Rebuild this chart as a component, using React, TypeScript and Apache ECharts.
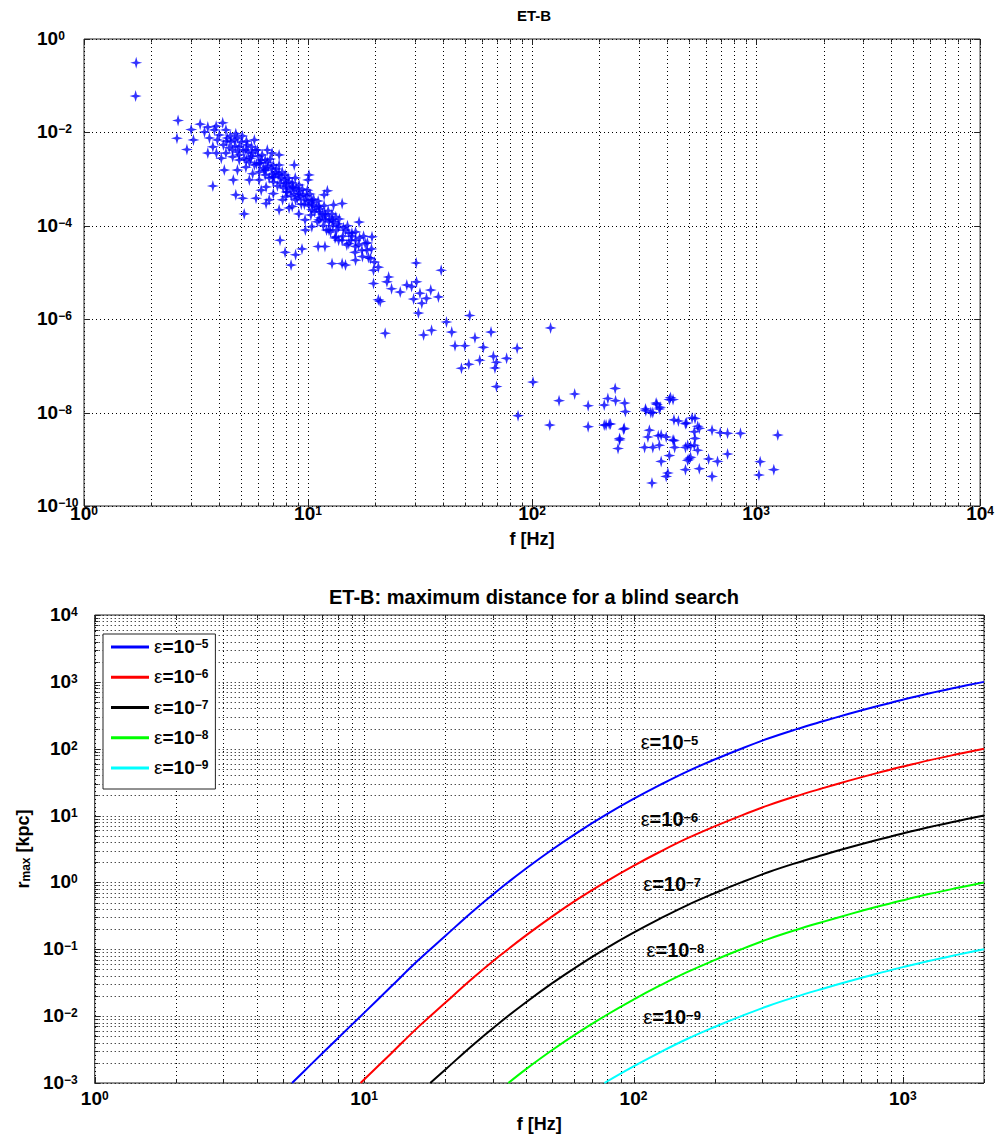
import React, { useEffect, useRef } from 'react';
import * as echarts from 'echarts';

const FONT = '"Liberation Sans", Arial, Helvetica, sans-serif';

// ---------------- Top panel: ET-B scatter (f [Hz], amplitude) ----------------
const lowBandPoints: [number, number][] = [
  [1.71, 0.31], [1.70, 0.06],
  [2.63, 1.8e-2], [2.60, 7.5e-3], [2.88, 4.3e-3], [3.01, 1.15e-2], [3.08, 6.9e-3], [3.30, 1.5e-2],
  [3.57, 1.3e-2], [3.89, 1.36e-2], [4.16, 1.6e-2], [3.57, 3.6e-3], [3.76, 4.9e-3], [4.23, 1.56e-3],
  [4.64, 9.6e-4], [3.76, 7.1e-4], [4.76, 4.6e-4], [5.19, 1.8e-4], [5.11, 3.9e-4], [5.86, 3.9e-4],
  [4.76, 9.4e-3], [4.30, 1.13e-2], [4.53, 6.3e-3], [4.93, 4.9e-3], [5.28, 4.2e-3], [5.66, 3.6e-3],
  [6.91, 3.6e-3], [6.05, 2.2e-3], [6.49, 1.56e-3], [6.95, 1.1e-3], [7.43, 1.3e-3], [7.96, 8.0e-4],
  [8.53, 6.8e-4], [9.12, 4.9e-4], [10.0, 9.6e-4], [10.4, 3.6e-4], [11.2, 2.6e-4], [11.9, 1.8e-4],
  [9.4, 3.2e-5], [8.8, 2.4e-5], [8.4, 1.44e-5], [7.9, 2.7e-5], [7.5, 4.9e-5], [11.1, 3.6e-5],
  [11.9, 3.6e-5], [10.4, 9.6e-5], [9.7, 1.34e-4], [9.1, 1.8e-4], [8.5, 2.6e-4], [7.7, 3.6e-4],
  [7.0, 4.9e-4], [6.5, 6.8e-4], [6.05, 9.6e-4], [5.66, 1.3e-3], [5.28, 1.8e-3], [4.93, 2.56e-3],
  [4.61, 3.0e-3], [4.30, 3.6e-3], [6.5, 3.0e-4], [7.43, 2.2e-4], [7.96, 4.2e-4], [8.8, 3.6e-4],
  [10.4, 2.2e-4], [11.2, 1.34e-4],
  [3.45, 1.02e-2], [3.63, 7.6e-3], [3.82, 1.13e-2], [3.94, 6.9e-3], [4.02, 8.8e-3], [4.19, 5.4e-3],
  [4.36, 7.6e-3], [4.45, 4.7e-3], [4.60, 4.2e-3], [4.69, 6.9e-3], [4.84, 3.8e-3], [4.93, 3.3e-3],
  [5.04, 6.2e-3], [5.19, 2.8e-3], [5.35, 5.4e-3], [5.47, 2.3e-3], [5.59, 3.1e-3], [5.76, 2.0e-3],
  [5.94, 4.2e-3], [6.05, 1.42e-3], [6.18, 2.56e-3], [6.31, 1.73e-3], [6.44, 1.23e-3], [6.58, 2.3e-3],
  [6.71, 1.06e-3], [6.86, 1.73e-3], [7.00, 8.7e-4], [7.15, 1.42e-3], [7.30, 7.1e-4], [7.43, 2.0e-3],
  [7.59, 1.06e-3], [7.75, 6.5e-4], [7.91, 1.23e-3], [8.08, 5.3e-4], [8.23, 8.7e-4], [8.42, 4.4e-4],
  [8.59, 6.5e-4], [8.77, 1.06e-3], [8.96, 3.9e-4], [9.12, 7.5e-4], [9.33, 2.9e-4], [9.53, 4.6e-4],
  [9.73, 3.6e-4], [9.94, 5.8e-4], [10.1, 2.7e-4], [10.3, 1.7e-4], [10.5, 2.8e-4], [10.7, 2.0e-4],
  [11.0, 1.22e-4], [11.2, 2.0e-4], [11.4, 1.48e-4], [11.7, 1.0e-4], [11.9, 1.34e-4],
  [3.90, 3.6e-3], [4.10, 2.8e-3], [4.84, 1.56e-3], [5.47, 9.6e-4], [6.18, 5.8e-4], [6.71, 3.6e-4],
  [8.23, 2.4e-4], [9.73, 8.1e-5], [5.76, 6.9e-3], [6.58, 4.2e-3], [7.43, 3.3e-3], [8.68, 2.0e-3],
  [10.1, 1.23e-3], [11.8, 4.6e-4],
];

const coreBandPoints: [number, number][] = [
  [4.84, 7.6e-3], [5.09, 8.4e-3], [5.31, 6.5e-3], [5.59, 4.9e-3], [5.41, 3.8e-3], [5.82, 4.2e-3],
  [6.0, 3.1e-3], [6.24, 3.3e-3], [6.12, 2.2e-3], [6.44, 2.56e-3], [6.64, 1.9e-3], [6.78, 2.7e-3],
  [7.0, 2.0e-3], [7.22, 1.65e-3], [7.07, 1.12e-3], [7.36, 1.23e-3], [7.67, 1.42e-3], [7.51, 8.3e-4],
  [7.83, 9.6e-4], [8.0, 7.1e-4], [8.15, 1.06e-3], [8.33, 6.1e-4], [8.5, 8.3e-4], [8.86, 6.5e-4],
  [8.68, 4.8e-4], [9.05, 5.6e-4], [9.23, 4.2e-4], [9.43, 6.1e-4], [9.63, 2.9e-4], [9.83, 4.4e-4],
  [10.0, 3.4e-4], [10.2, 4.8e-4], [10.4, 3.1e-4], [10.6, 3.7e-4], [10.9, 2.5e-4], [11.1, 3.4e-4],
  [11.3, 2.3e-4], [11.6, 1.8e-4], [11.8, 2.7e-4], [12.0, 1.63e-4], [12.3, 2.1e-4], [12.5, 1.4e-4],
  [12.8, 1.8e-4], [13.0, 1.22e-4], [13.3, 1.55e-4], [13.6, 1.1e-4], [13.8, 1.4e-4], [14.4, 9.1e-5],
  [15.0, 1.0e-4], [15.7, 6.0e-5], [16.3, 7.4e-5], [17.0, 5.5e-5], [17.7, 6.0e-5], [18.4, 4.3e-5],
  [4.5, 8.4e-3], [4.32, 6.5e-3], [4.74, 5.1e-3], [5.14, 4.2e-3], [5.53, 2.8e-3], [5.88, 2.1e-3],
  [6.37, 1.56e-3], [6.93, 1.29e-3], [8.0, 5.3e-4], [5.31, 2.56e-3],
];

const midBandPoints: [number, number][] = [
  [12.2, 5.6e-4], [14.2, 3.0e-4], [12.8, 1.34e-4], [13.7, 9.6e-5], [14.7, 8.1e-5], [15.7, 7.0e-5],
  [16.9, 1.2e-4], [19.3, 5.8e-5], [19.2, 3.2e-5], [20.6, 1.3e-5], [19.6, 1.12e-5], [18.6, 2.1e-5],
  [16.3, 1.84e-5], [14.7, 1.44e-5], [12.8, 1.55e-5], [14.2, 1.55e-5], [12.4, 8.1e-5], [13.3, 5.8e-5],
  [14.2, 4.9e-5], [15.2, 4.2e-5], [16.3, 3.6e-5], [17.4, 3.0e-5], [18.0, 4.2e-5], [16.3, 4.9e-5],
  [15.2, 7.0e-5], [12.1, 8.1e-5], [12.4, 1.22e-4], [12.6, 7.4e-5], [12.9, 1.0e-4], [13.2, 5.5e-5],
  [13.4, 8.1e-5], [13.7, 4.9e-5], [14.3, 6.0e-5], [14.9, 3.9e-5], [15.5, 4.9e-5], [16.2, 2.7e-5],
  [16.8, 3.9e-5], [17.5, 2.2e-5], [18.3, 3.0e-5], [19.0, 2.0e-5], [19.8, 1.67e-5], [13.0, 2.8e-4],
  [19.6, 5.8e-6], [20.6, 2.6e-6], [22.9, 8.0e-6], [22.5, 6.3e-6], [23.6, 4.5e-6], [25.8, 3.8e-6],
  [27.6, 5.4e-6], [29.0, 5.0e-6], [30.5, 6.3e-6], [29.6, 2.7e-6], [31.6, 3.6e-6], [32.2, 2.2e-6],
  [31.1, 1.35e-6], [33.8, 2.8e-6], [35.3, 4.2e-6], [38.2, 3.0e-6], [30.4, 1.6e-5], [39.3, 1.12e-5],
  [22.1, 5.0e-7], [32.8, 4.6e-7], [35.6, 5.8e-7], [41.5, 8.7e-7], [43.8, 5.3e-7], [52.7, 1.2e-6],
  [45.3, 2.7e-7], [50.1, 2.7e-7], [55.6, 4.0e-7], [60.6, 2.5e-7], [65.6, 5.3e-7], [21.0, 2.4e-6],
  [48.4, 8.9e-8], [52.2, 1.08e-7], [58.4, 1.32e-7], [67.2, 1.6e-7], [69.4, 1.2e-7], [68.3, 9.0e-8],
  [77.0, 1.45e-7], [85.8, 2.4e-7], [69.4, 3.6e-8], [86.6, 8.6e-9],
];

const highBandPoints: [number, number][] = [
  [101, 4.5e-8], [121, 6.5e-7], [120, 5.4e-9], [132, 1.8e-8], [155, 2.5e-8], [178, 1.4e-8],
  [178, 5.0e-9], [210, 1.45e-8], [218, 2.0e-8], [235, 3.3e-8], [236, 1.8e-8], [259, 1.6e-8],
  [261, 1.05e-8], [258, 4.6e-9], [214, 5.4e-9], [224, 5.7e-9], [246, 2.8e-9], [242, 1.7e-9],
  [256, 4.4e-9], [321, 1.2e-8], [339, 1.0e-8], [361, 1.5e-8], [373, 1.3e-8], [415, 2.1e-8],
  [426, 1.9e-8], [430, 7.0e-9], [450, 6.6e-9], [484, 5.8e-9], [518, 7.7e-9], [534, 7.5e-9],
  [549, 5.1e-9], [558, 4.6e-9], [530, 3.9e-9], [534, 2.8e-9], [530, 2.0e-9], [549, 1.56e-9],
  [495, 2.0e-9], [510, 1.1e-9], [495, 9.5e-10], [510, 1.9e-9], [484, 1.8e-9], [636, 4.2e-9],
  [692, 3.7e-9], [746, 3.6e-9], [852, 3.6e-9], [1250, 3.3e-9], [334, 4.2e-9], [329, 3.0e-9],
  [318, 1.8e-9], [346, 1.8e-9], [370, 2.0e-9], [377, 3.3e-9], [397, 3.0e-9], [426, 2.6e-9],
  [433, 1.8e-9], [410, 1.2e-9], [377, 9.0e-10], [404, 5.1e-10], [397, 4.3e-10], [343, 3.1e-10],
  [502, 1.02e-9], [484, 6.0e-10], [558, 6.3e-10], [614, 1.02e-9], [673, 9.0e-10], [636, 4.3e-10],
  [746, 1.3e-9], [1043, 8.9e-10], [1030, 4.6e-10], [1200, 6.0e-10], [346, 1.0e-8], [322, 1.1e-8],
  [358, 1.6e-8], [370, 1.2e-8], [410, 1.9e-8], [489, 6.0e-9], [366, 3.2e-9], [430, 2.5e-9],
  [210, 5.4e-9], [221, 5.7e-9], [246, 2.6e-9],
];

// ---------------- Bottom panel: r_max [kpc] vs f [Hz] ----------------
const curveNames = ['ε=10\u22125', 'ε=10\u22126', 'ε=10\u22127', 'ε=10\u22128', 'ε=10\u22129'];
const curveColors = ['#0000ff', '#ff0000', '#000000', '#00ff00', '#00ffff'];

const rEps5: [number, number][] = [
  [5.4, 1.0e-3], [6.31, 1.85e-3], [7.94, 4.56e-3], [10, 1.12e-2], [12.6, 2.77e-2], [15.8, 6.73e-2],
  [20, 0.158], [25.1, 0.359], [31.6, 0.778], [39.8, 1.6], [50.1, 3.14], [63.1, 5.86], [79.4, 10.4],
  [100, 17.7], [126, 29.0], [158, 45.5], [200, 68.9], [251, 100], [316, 142], [398, 193], [501, 255],
  [631, 333], [794, 428], [1000, 541], [1259, 675], [1585, 825], [2000, 1000],
];
const rEps6: [number, number][] = [
  [9.7, 1.0e-3], [12.6, 2.77e-3], [15.8, 6.73e-3], [20, 1.58e-2], [25.1, 3.59e-2], [31.6, 7.78e-2],
  [39.8, 0.16], [50.1, 0.314], [63.1, 0.586], [79.4, 1.04], [100, 1.77], [126, 2.9], [158, 4.55],
  [200, 6.89], [251, 10], [316, 14.2], [398, 19.3], [501, 25.5], [631, 33.3], [794, 42.8], [1000, 54.1],
  [1259, 67.5], [1585, 82.5], [2000, 100],
];
const rEps7: [number, number][] = [
  [17.6, 1.0e-3], [20, 1.58e-3], [25.1, 3.59e-3], [31.6, 7.78e-3], [39.8, 1.6e-2], [50.1, 3.14e-2],
  [63.1, 5.86e-2], [79.4, 0.104], [100, 0.177], [126, 0.29], [158, 0.455], [200, 0.689], [251, 1.0],
  [316, 1.42], [398, 1.93], [501, 2.55], [631, 3.33], [794, 4.28], [1000, 5.41], [1259, 6.75],
  [1585, 8.25], [2000, 10],
];
const rEps8: [number, number][] = [
  [34.3, 1.0e-3], [39.8, 1.6e-3], [50.1, 3.14e-3], [63.1, 5.86e-3], [79.4, 1.04e-2], [100, 1.77e-2],
  [126, 2.9e-2], [158, 4.55e-2], [200, 6.89e-2], [251, 0.1], [316, 0.142], [398, 0.193], [501, 0.255],
  [631, 0.333], [794, 0.428], [1000, 0.541], [1259, 0.675], [1585, 0.825], [2000, 1.0],
];
const rEps9: [number, number][] = [
  [78, 1.0e-3], [100, 1.77e-3], [126, 2.9e-3], [158, 4.55e-3], [200, 6.89e-3], [251, 1.0e-2],
  [316, 1.42e-2], [398, 1.93e-2], [501, 2.55e-2], [631, 3.33e-2], [794, 4.28e-2], [1000, 5.41e-2],
  [1259, 6.75e-2], [1585, 8.25e-2], [2000, 0.1],
];
const curveData = [rEps5, rEps6, rEps7, rEps8, rEps9];
// in-plot labels of the curves (data coordinates)
const curveLabelAt: [number, number][] = [[136, 122], [136, 8.7], [139, 0.92], [143, 0.093], [139, 0.0094]];

// ---------------- Axis ticks / grid positions ----------------
const MINOR_STEPS = [2, 3, 4, 5, 6, 7, 8, 9];
const decadeMinors = (decades: number[]) =>
  decades.flatMap((d) => MINOR_STEPS.map((m) => m * Math.pow(10, d)));
const topXMajor = [1, 10, 100, 1000, 10000];
const topXMinor = decadeMinors([0, 1, 2, 3]);
const topYMajor = [1e-10, 1e-8, 1e-6, 1e-4, 1e-2, 1];
const topYMinor: number[] = [];
const botXMajor = [1, 10, 100, 1000];
const botXMinor = [...decadeMinors([0, 1, 2]), 2000];
const botYMajor = [1e-3, 1e-2, 1e-1, 1, 10, 100, 1000, 10000];
const botYMinor = decadeMinors([-3, -2, -1, 0, 1, 2, 3]);

function gridItems(xMaj: number[], xMin: number[], yMaj: number[], yMin: number[], xRef: number, yRef: number) {
  const items: number[][] = [];
  xMaj.forEach((v) => items.push([v, yRef, 0, 1]));
  xMin.forEach((v) => items.push([v, yRef, 0, 0]));
  yMaj.forEach((v) => items.push([xRef, v, 1, 1]));
  yMin.forEach((v) => items.push([xRef, v, 1, 0]));
  return items;
}

const supRich = (big: number, small: number) => ({
  e: { fontSize: big, fontWeight: 'normal', fontFamily: FONT, color: '#000', lineHeight: 18, verticalAlign: 'bottom' },
  b: { fontSize: big, fontWeight: 'bold', fontFamily: FONT, color: '#000', lineHeight: 18, verticalAlign: 'bottom' },
  s: { fontSize: small, fontWeight: 'bold', fontFamily: FONT, color: '#000', lineHeight: 10, verticalAlign: 'top', padding: [0, 0, 12, 0] },
});

const powLabel = (v: number) => {
  const lg = Math.log10(v);
  const e = Math.round(lg);
  if (Math.abs(lg - e) > 1e-6) return '';
  return `{b|10}{s|${e < 0 ? '\u2212' + -e : e}}`;
};

const epsLabel = (name: string) => name.replace(/^ε=10(.*)$/, '{e|ε}{b|=10}{s|$1}');

function renderGrid(params: any, api: any) {
  const cs = params.coordSys;
  const pt = api.coord([api.value(0), api.value(1)]);
  const dir = api.value(2);
  const major = api.value(3);
  const len = major ? 6 : 3.5;
  const dotted = { stroke: '#000', lineWidth: 1, lineDash: [1, 3] };
  const solid = { stroke: '#222', lineWidth: 1 };
  if (dir === 0) {
    const x = Math.round(pt[0]) + 0.5;
    const y0 = cs.y;
    const y1 = cs.y + cs.height;
    return {
      type: 'group',
      children: [
        { type: 'line', shape: { x1: x, y1: y0, x2: x, y2: y1 }, style: dotted },
        { type: 'line', shape: { x1: x, y1: y1, x2: x, y2: y1 - len }, style: solid },
        { type: 'line', shape: { x1: x, y1: y0, x2: x, y2: y0 + len }, style: solid },
      ],
    };
  }
  const y = Math.round(pt[1]) + 0.5;
  const x0 = cs.x;
  const x1 = cs.x + cs.width;
  return {
    type: 'group',
    children: [
      { type: 'line', shape: { x1: x0, y1: y, x2: x1, y2: y }, style: dotted },
      { type: 'line', shape: { x1: x0, y1: y, x2: x0 + len, y2: y }, style: solid },
      { type: 'line', shape: { x1: x1, y1: y, x2: x1 - len, y2: y }, style: solid },
    ],
  };
}

const STAR = 'path://M5,0 L6.1,3.9 L10,5 L6.1,6.1 L5,10 L3.9,6.1 L0,5 L3.9,3.9 Z';

export default function App() {
  const ref = useRef<HTMLDivElement>(null);
  useEffect(() => {
    if (!ref.current) return;
    const chart = echarts.init(ref.current, undefined, { renderer: 'svg' });
    const axisName = { fontWeight: 'bold', fontSize: 18, fontFamily: FONT, color: '#000' };
    const option: any = {
      animation: false,
      backgroundColor: '#fff',
      grid: [
        { left: 84, top: 39, width: 900, height: 467, show: true, borderColor: '#222', borderWidth: 1, backgroundColor: 'transparent' },
        { left: 84, top: 615, width: 900, height: 468, show: true, borderColor: '#222', borderWidth: 1, backgroundColor: 'transparent' },
      ],
      xAxis: [
        {
          type: 'log', gridIndex: 0, min: 1, max: 10000, logBase: 10,
          axisLine: { show: false }, axisTick: { show: false }, splitLine: { show: false },
          axisLabel: { formatter: powLabel, rich: supRich(19, 12), margin: -1, showMinLabel: true, showMaxLabel: true },
          name: 'f [Hz]', nameLocation: 'middle', nameGap: 12, nameTextStyle: axisName,
        },
        {
          type: 'log', gridIndex: 1, min: 1, max: 2000, logBase: 10,
          axisLine: { show: false }, axisTick: { show: false }, splitLine: { show: false },
          axisLabel: { formatter: powLabel, rich: supRich(19, 12), margin: 7, showMinLabel: true, showMaxLabel: false },
          name: 'f [Hz]', nameLocation: 'middle', nameGap: 32, nameTextStyle: axisName,
        },
      ],
      yAxis: [
        {
          type: 'log', gridIndex: 0, min: 1e-10, max: 1, logBase: 100,
          axisLine: { show: false }, axisTick: { show: false }, splitLine: { show: false },
          axisLabel: { formatter: powLabel, rich: supRich(19, 12), margin: 47, align: 'left', showMinLabel: true, showMaxLabel: true },
        },
        {
          type: 'log', gridIndex: 1, min: 1e-3, max: 1e4, logBase: 10,
          axisLine: { show: false }, axisTick: { show: false }, splitLine: { show: false },
          axisLabel: { formatter: powLabel, rich: supRich(19, 12), margin: 17, align: 'right', showMinLabel: true, showMaxLabel: true },
          name: '{r|r}{m|max}{r| [kpc]}', nameLocation: 'middle', nameGap: 52, nameRotate: 90,
          nameTextStyle: {
            rich: {
              r: { fontSize: 18, fontWeight: 'bold', fontFamily: FONT, color: '#000', lineHeight: 18, verticalAlign: 'top' },
              m: { fontSize: 12, fontWeight: 'bold', fontFamily: FONT, color: '#000', lineHeight: 10, verticalAlign: 'bottom', padding: [12, 0, 0, 0] },
            },
          },
        },
      ],
      legend: {
        data: curveNames, orient: 'vertical', left: 103, top: 634,
        padding: [3, 7, 6, 8], itemGap: 5.25, itemWidth: 38, itemHeight: 3, icon: 'rect',
        backgroundColor: '#fff', borderColor: '#222', borderWidth: 1, selectedMode: false,
        formatter: epsLabel, textStyle: { rich: supRich(19, 12) },
      },
      graphic: [
        { type: 'text', x: 534, y: 15, z: 10, style: { text: 'ET-B', font: `bold 15px ${FONT}`, fill: '#000', align: 'center', verticalAlign: 'middle' } },
        { type: 'text', x: 534, y: 597, z: 10, style: { text: 'ET-B: maximum distance for a blind search', font: `bold 20px ${FONT}`, fill: '#000', align: 'center', verticalAlign: 'middle' } },
      ],
      series: [
        {
          type: 'custom', xAxisIndex: 0, yAxisIndex: 0, silent: true, z: 1, clip: false,
          renderItem: renderGrid,
          data: gridItems(topXMajor, topXMinor, topYMajor, topYMinor, 1, 1e-10),
        },
        {
          type: 'custom', xAxisIndex: 1, yAxisIndex: 1, silent: true, z: 1, clip: false,
          renderItem: renderGrid,
          data: gridItems(botXMajor, botXMinor, botYMajor, botYMinor, 1, 1e-3),
        },
        ...[lowBandPoints, coreBandPoints, midBandPoints, highBandPoints].map((pts) => ({
          type: 'scatter', xAxisIndex: 0, yAxisIndex: 0, z: 3, silent: true,
          symbol: STAR, symbolSize: 12, itemStyle: { color: '#0000ff' }, data: pts,
        })),
        ...curveData.map((d, i) => ({
          name: curveNames[i], type: 'line', xAxisIndex: 1, yAxisIndex: 1, z: 3,
          data: d, smooth: 0.4, symbol: 'none', showSymbol: false, silent: true,
          lineStyle: { color: curveColors[i], width: 2 }, itemStyle: { color: curveColors[i] },
          markPoint: {
            symbol: 'circle', symbolSize: 1, silent: true, itemStyle: { color: 'rgba(0,0,0,0)' },
            label: { show: true, position: 'inside', color: '#000', formatter: epsLabel(curveNames[i]), rich: supRich(20, 13) },
            data: [{ coord: curveLabelAt[i] }],
          },
        })),
      ],
    };
    chart.setOption(option);
    return () => chart.dispose();
  }, []);
  return <div ref={ref} style={{ position: 'absolute', left: 0, top: 0, width: 997, height: 1140, background: '#fff' }} />;
}
